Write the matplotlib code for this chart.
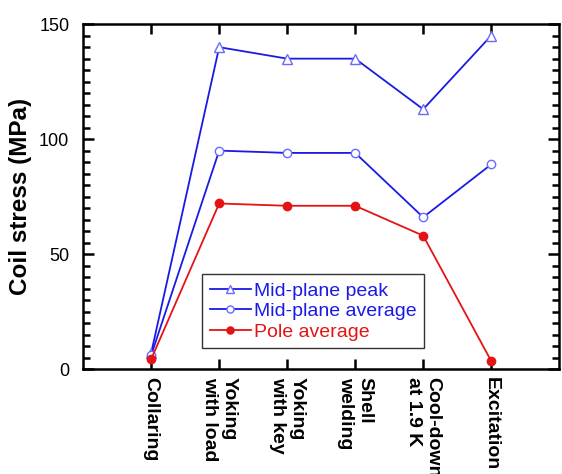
import matplotlib.pyplot as plt
from matplotlib.ticker import MultipleLocator

plt.rcParams["font.family"] = ["Liberation Sans", "DejaVu Sans"]

stages = ["Collaring", "Yoking\nwith load", "Yoking\nwith key", "Shell\nwelding",
          "Cool-down\nat 1.9 K", "Excitation"]
midplane_peak = [7, 140, 135, 135, 113, 145]
midplane_avg = [6, 95, 94, 94, 66, 89]
pole_avg = [4.3, 72, 71, 71, 58, 3.5]

BLUE = "#1a1ae6"
MARK_BLUE = "#6a6aff"
RED = "#e41414"

fig = plt.figure(figsize=(5.62, 4.74), dpi=100)
ax = fig.add_axes([0.148, 0.2215, 0.847, 0.7275])

x = list(range(1, len(stages) + 1))
ax.plot(x, midplane_peak, color=BLUE, linewidth=1.3, marker="^", markersize=7,
        markerfacecolor="white", markeredgecolor=MARK_BLUE, markeredgewidth=1.0,
        label="Mid-plane peak")
ax.plot(x, midplane_avg, color=BLUE, linewidth=1.3, marker="o", markersize=6,
        markerfacecolor="white", markeredgecolor=MARK_BLUE, markeredgewidth=1.0,
        label="Mid-plane average")
ax.plot(x, pole_avg, color=RED, linewidth=1.3, marker="o", markersize=6,
        markerfacecolor=RED, markeredgecolor=RED, label="Pole average")

ax.set_xlim(0, 7)
ax.set_ylim(0, 150)
ax.set_xticks(x)
ax.set_xticklabels(stages, rotation=-90, fontsize=14, fontweight="bold",
                   ha="center", va="top", multialignment="left")
ax.yaxis.set_major_locator(MultipleLocator(50))
ax.yaxis.set_minor_locator(MultipleLocator(5))
ax.tick_params(axis="y", which="major", direction="in", length=8, width=1.8,
               labelsize=13, pad=10, right=True)
ax.tick_params(axis="y", which="minor", direction="in", length=5, width=1.8, right=True)
ax.tick_params(axis="x", which="major", direction="in", length=7, width=1.8,
               top=True, pad=6)
for sp in ax.spines.values():
    sp.set_linewidth(1.8)

ax.set_ylabel("Coil stress (MPa)", fontsize=17.5, fontweight="bold", labelpad=5)

leg = ax.legend(loc="upper left", bbox_to_anchor=(0.25, 0.275), borderaxespad=0,
                fontsize=14, frameon=True, fancybox=False, edgecolor="black",
                handlelength=2.1, handletextpad=0.15, labelspacing=0.15,
                borderpad=0.4, markerscale=0.85)
leg.get_frame().set_linewidth(1.0)
for txt, c in zip(leg.get_texts(), [BLUE, BLUE, RED]):
    txt.set_color(c)

fig.savefig("out.png", dpi=100)
